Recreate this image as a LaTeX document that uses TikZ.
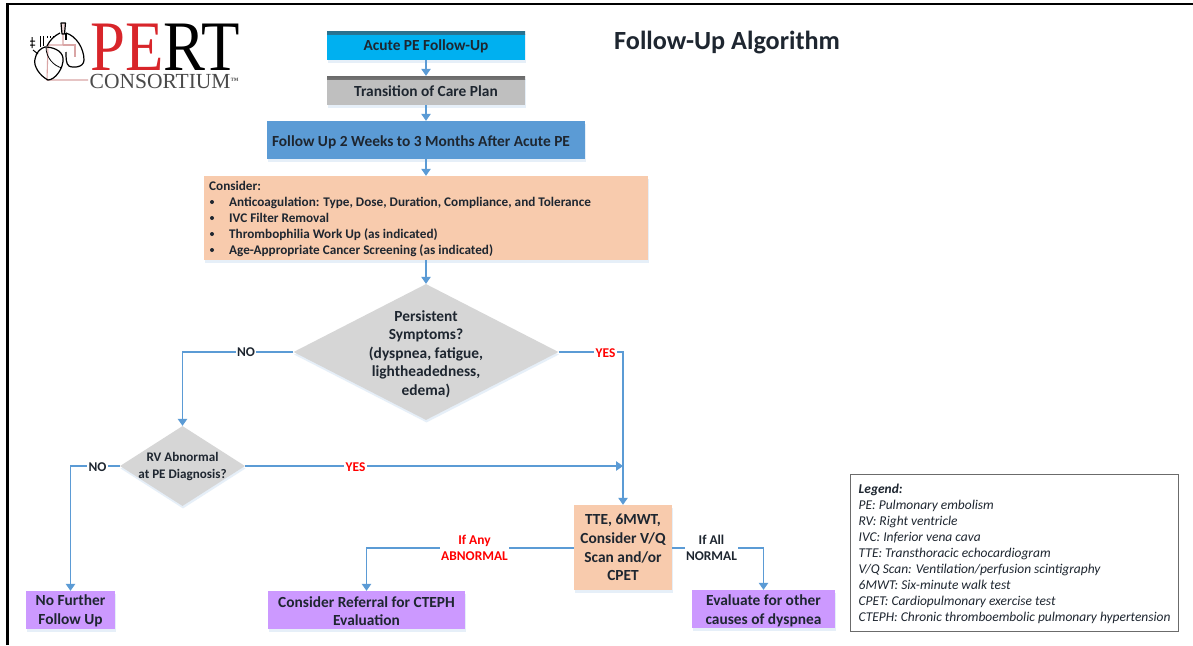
\documentclass[tikz,border=0pt]{standalone}
\usepackage{fontspec}
\setmainfont{Carlito}
\newfontfamily\logofont{Liberation Serif}
\usetikzlibrary{arrows.meta,shapes.geometric,calc}
\definecolor{cyanbox}{HTML}{00B0F0}
\definecolor{cyantop}{HTML}{2A6F8C}
\definecolor{graybox}{HTML}{BFBFBF}
\definecolor{graytop}{HTML}{6A6A6A}
\definecolor{bluebox}{HTML}{5B9BD5}
\definecolor{peach}{HTML}{F8CBAD}
\definecolor{lilac}{HTML}{CC99FF}
\definecolor{dgray}{HTML}{D6D6D6}
\definecolor{linkblue}{HTML}{5B9BD5}
\definecolor{soft}{HTML}{E6EFF8}
\definecolor{ink}{HTML}{1E2630}
\definecolor{logored}{HTML}{D8252A}
\definecolor{logopink}{HTML}{D9A5A5}
\definecolor{logogray}{HTML}{4A4A4A}
\definecolor{legendline}{HTML}{6B6B6B}
\newcommand{\lowerit}{\rule{0pt}{13pt}}
\tikzset{
  shadowed/.style={preaction={fill=soft,draw=none,transform canvas={shift={(.5pt,-2.5pt)}}}},
  boxbase/.style={rectangle,shadowed,inner sep=0pt,align=center,text=ink,font=\fontsize{15.4}{18.8}\selectfont\bfseries},
  toped/.style 2 args={path picture={\shade[top color=#1,bottom color=#2] (path picture bounding box.north west) rectangle ([yshift=-3.5pt]path picture bounding box.north east);}},
  dia/.style={diamond,shadowed,fill=dgray,inner sep=0pt,aspect=2},
  dtext/.style={align=center,text=ink,font=\fontsize{15.4}{18.5}\selectfont\bfseries,inner sep=0pt},
  link/.style={draw=linkblue,line width=1.1pt,-{Triangle[length=7pt,width=9.5pt]}},
  lab/.style={fill=white,inner sep=1.5pt,align=center,font=\fontsize{13.4}{16}\selectfont\bfseries},
  logoline/.style={draw=black,line width=1.2pt,line join=round},
  logopinkl/.style={draw=logopink,line width=1.1pt},
  bullettext/.style={anchor=base west,inner sep=0pt,text=ink,font=\fontsize{13.2}{15}\selectfont\bfseries},
}
\begin{document}
\begin{tikzpicture}[x=1pt,y=-1pt]
\useasboundingbox (0,0) rectangle (1193,645);
\fill[white] (0,0) rectangle (1193,645);
% frame
\draw[black,line width=2.2pt] (7.5,645) -- (7.5,4) -- (1193,4);
% logo mark
\draw[logopinkl] (63,33) -- (63,45) -- (48,45) -- (47,80) -- (88,80);
\draw[logopinkl] (63,45) -- (75,45) -- (75,57);
\draw[logoline,fill=logopink!40] (61,23) -- (65.5,23) -- (64.5,34) -- (62,34) -- cycle;
\draw[logoline] (66,33) .. controls (76,36) and (84,48) .. (84,60) .. controls (84,68) and (72,68) .. (69,66) .. controls (66,64) and (66,58) .. (66,52);
\draw[logoline] (66,33) -- (66,40);
\draw[logoline] (60,33) .. controls (54,36) and (50,40) .. (47,46);
\draw[logoline] (45,47) .. controls (52,47) and (62,50) .. (63,58) .. controls (64,68) and (55,80) .. (48,80) .. controls (40,76) and (33,66) .. (35,59) .. controls (36,52) and (41,48) .. (45,47) -- cycle;
\draw[logoline,line width=.8pt] (46,47) .. controls (46,58) and (54,66) .. (62,68);
\draw[logoline,line width=1pt] (32,37) -- (32,48) (35,41) -- (30,41) (35,45) -- (30,45) (33,50) -- (38,54);
\draw[logoline,line width=1pt] (40,36) -- (40,47) (43,36) -- (43,46) (47,36) -- (47,38) (50,36) -- (50,38) (53,36) -- (53,38);
% logo text
\node[anchor=base west,inner sep=0pt,xscale=.885,transform shape,font=\logofont\fontsize{71}{71}\selectfont] (logoa) at (90,70) {\textcolor{logored}{PE}\textcolor{black}{RT}};
\node[anchor=base west,inner sep=0pt,text=logogray,font=\logofont\fontsize{21.5}{22}\selectfont] (logob) at (89.5,88) {CONSORTIUM\raisebox{5pt}{\fontsize{8}{8}\selectfont\bfseries ™}};
% title
\node[anchor=west,inner sep=0pt,text=ink,font=\fontsize{26.2}{30}\selectfont\bfseries] (title) at (614,43) {Follow-Up Algorithm};
% boxes
\node[boxbase,fill=cyanbox,minimum width=198pt,minimum height=29pt,toped={cyantop}{cyanbox}] (acute) at (426,45.5) {\lowerit Acute PE Follow-Up};
\node[boxbase,fill=graybox,minimum width=198pt,minimum height=29pt,toped={graytop}{graybox}] (trans) at (426,90.5) {\lowerit Transition of Care Plan};
\node[boxbase,fill=bluebox,minimum width=318pt,minimum height=38pt] (fu) at (426,140) {\hspace*{-10pt}\rule{0pt}{15pt}Follow Up 2 Weeks to 3 Months After Acute PE};
\node[rectangle,shadowed,fill=peach,minimum width=444pt,minimum height=84pt,inner sep=0pt] (cons) at (426,218) {};
\node[bullettext] (c0) at (209,190) {Consider:};
\foreach \n/\yy/\tx in {c1/206/{Anticoagulation: Type, Dose, Duration, Compliance, and Tolerance},c2/222/{IVC Filter Removal},c3/238/{Thrombophilia Work Up (as indicated)},c4/254/{Age-Appropriate Cancer Screening (as indicated)}}{
  \fill[ink] (212,\yy-4) circle (2pt);
  \node[bullettext] (\n) at (229,\yy) {\tx};
}
\node[dia,minimum width=265pt,minimum height=136pt] (d1) at (426,352) {};
\node[dtext] (d1t) at (426,354) {Persistent\\Symptoms?\\(dyspnea, fatigue,\\lightheadedness,\\edema)};
\node[dia,minimum width=125pt,minimum height=80pt] (d2) at (182.5,466) {};
\node[dtext,font=\fontsize{13.1}{16.5}\selectfont\bfseries] (d2t) at (182.5,466.5) {RV Abnormal\\at PE Diagnosis?};
\node[boxbase,fill=peach,minimum width=98pt,minimum height=85pt] (tte) at (623,547.5) {TTE, 6MWT,\\Consider V/Q\\Scan and/or\\CPET};
\node[boxbase,fill=lilac,minimum width=89pt,minimum height=38pt] (nofu) at (70.5,610) {\lowerit No Further\\Follow Up};
\node[boxbase,fill=lilac,minimum width=197pt,minimum height=38pt] (ref) at (366.5,610) {\lowerit Consider Referral for CTEPH\\Evaluation};
\node[boxbase,fill=lilac,minimum width=143pt,minimum height=38pt] (eval) at (763.5,609) {\rule{0pt}{14pt}Evaluate for other\\causes of dyspnea};
% legend
\node[draw=legendline,line width=1pt,fill=white,minimum width=328pt,minimum height=157pt,inner sep=0pt] (leg) at (1014,552.5) {};
\node[anchor=north west,inner sep=0pt,align=left,text=ink,font=\fontsize{13.45}{16.1}\selectfont\itshape] (legt) at (858.5,483.5) {\textbf{Legend:}\\PE: Pulmonary embolism\\RV: Right ventricle\\IVC: Inferior vena cava\\TTE: Transthoracic echocardiogram\\V/Q Scan: Ventilation/perfusion scintigraphy\\6MWT: Six-minute walk test\\CPET: Cardiopulmonary exercise test\\CTEPH: Chronic thromboembolic pulmonary hypertension};
% connectors
\draw[link] (acute) -- (trans);
\draw[link] (trans) -- (fu);
\draw[link] (fu) -- (cons);
\draw[link] (cons) -- (d1);
\draw[link] (d1.west) -| (d2.north);
\draw[link] (d1.east) -| (tte.north);
\draw[link] (d2.west) -| (nofu.north);
\coordinate (join) at (tte.north |- d2.east);
\draw[link] (d2.east) -- (join);
\draw[link] (tte.west |- 0,548) -| (ref.north);
\draw[link] (tte.east |- 0,548) -| (eval.north);
% connector labels
\node[lab,text=ink] (ln1) at (246,352.5) {NO};
\node[lab,text=red] (ly1) at (605.5,353) {YES};
\node[lab,text=ink] (ln2) at (97.5,467) {NO};
\node[lab,text=red] (ly2) at (355.5,467) {YES};
\node[lab,text=red] (labn) at (474.5,548) {If Any\\ABNORMAL};
\node[lab,text=ink] (lnor) at (711.5,548) {If All\\NORMAL};
\end{tikzpicture}
\end{document}
